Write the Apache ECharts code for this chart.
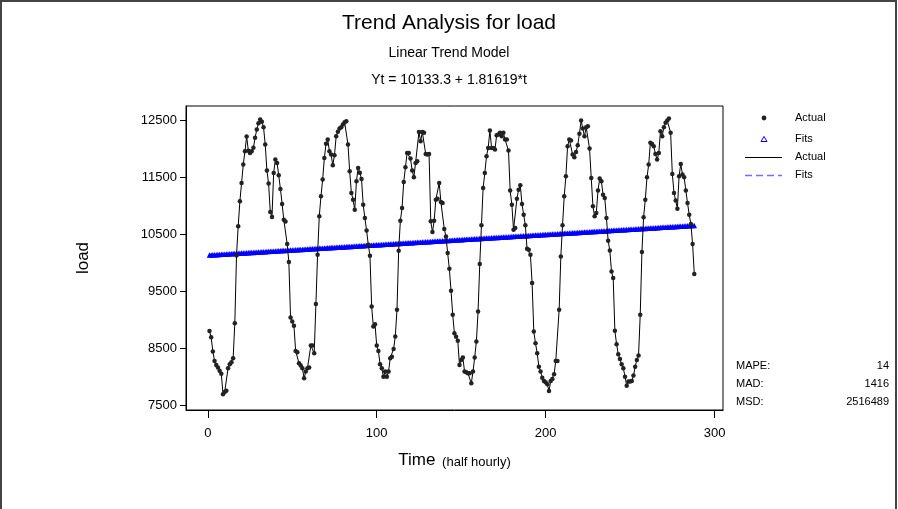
<!DOCTYPE html>
<html>
<head>
<meta charset="utf-8">
<script src="https://cdn.jsdelivr.net/npm/echarts@6/dist/echarts.min.js"></script>
<style>
  html, body { margin: 0; padding: 0; background: #fff; }
  #trend { width: 898px; height: 509px; }
</style>
</head>
<body>
<div id="trend"></div>
<script>
  // load, half hourly, six days of 48 readings each
  var day1 = [8800, 8690, 8440, 8275, 8205, 8157, 8100, 8050, 7690, 7730, 7750, 8146, 8216, 8250, 8322, 8938,
    10128, 10640, 11080, 11400, 11725, 11960, 12220, 11970, 11930, 11960, 12020, 12195, 12342, 12450, 12518, 12480,
    12383, 12077, 11620, 11391, 10893, 10805, 11579, 11813, 11755, 11537, 11297, 11033, 10757, 10727, 10329, 10012];
  var day2 = [9037, 8967, 8891, 8451, 8428, 8234, 8192, 8146, 7970, 8087, 8146, 8157, 8544, 8544, 8410, 9273,
    10141, 10816, 11167, 11461, 11843, 12090, 12165, 11960, 11901, 11713, 11890, 12224, 12301, 12360, 12383, 12430,
    12470, 12488, 12077, 11607, 11227, 11109, 10933, 11432, 11667, 11580, 11473, 11021, 10787, 10569, 10317, 10123];
  var day3 = [9231, 8879, 8920, 8545, 8451, 8216, 8146, 7998, 8087, 7998, 8087, 8322, 8350, 8486, 8703, 9173,
    10211, 10739, 10962, 11420, 11678, 11930, 11930, 11831, 11620, 11502, 11755, 11784, 12300, 12136, 12300, 12283,
    11913, 11901, 11913, 10728, 10540, 10739, 11109, 11127, 11403, 11068, 11051, 10593, 10463, 10171, 9894, 9507];
  var day4 = [9085, 8762, 8700, 8627, 8204, 8292, 8333, 8087, 8075, 8058, 8058, 7882, 8087, 8333, 8615, 9143,
    9977, 10657, 11315, 11579, 11872, 12019, 12324, 12019, 12019, 11989, 12242, 12254, 12283, 12224, 12283, 12165,
    12165, 11972, 11268, 11021, 10581, 10610, 11127, 11285, 11361, 11033, 10845, 10657, 10246, 10229, 10141, 9642];
  var day5 = [8791, 8586, 8410, 8174, 8087, 7981, 7923, 7899, 7864, 7746, 7923, 7958, 8040, 8275, 8275, 9173,
    10111, 10657, 11167, 11520, 12048, 12165, 12148, 11901, 11854, 11948, 12065, 12266, 12500, 12359, 12224, 12383,
    12400, 12007, 11491, 10992, 10816, 10875, 11268, 11479, 11432, 11197, 11139, 10787, 10387, 10217, 9847, 9730];
  var day6 = [8803, 8569, 8393, 8310, 8216, 8146, 7998, 7840, 7911, 7911, 7923, 8017, 8174, 8292, 8368, 9085,
    10188, 10798, 11109, 11502, 11725, 12107, 12089, 12048, 11913, 11813, 11930, 12312, 12224, 12383, 12459, 12500,
    12535, 12283, 11561, 11227, 11092, 10951, 11520, 11737, 11549, 11502, 11268, 11051, 10845, 10681, 10329, 9801];

  // fitted model printed on the chart: Yt = 10133.3 + 1.81619*t
  var intercept = 10133.3;
  var slope = 1.81619;

  var xTicks = [0, 100, 200, 300];
  var yTicks = [7500, 8500, 9500, 10500, 11500, 12500];
  var stats = [['MAPE:', '14'], ['MAD:', '1416'], ['MSD:', '2516489']];

  var load = day1.concat(day2, day3, day4, day5, day6);
  var actualData = [];
  var fitsData = [];
  for (var i = 0; i < load.length; i++) {
    var t = i + 1;
    actualData.push([t, load[i]]);
    fitsData.push([t, intercept + slope * t]);
  }

  var font = 'Liberation Sans, Arial, sans-serif';
  var chart = echarts.init(document.getElementById('trend'));

  // legend + accuracy measures (Minitab style side panel)
  var side = [
    {type: 'circle', shape: {cx: 764, cy: 118, r: 2.4}, style: {fill: '#222'}},
    {type: 'text', style: {x: 795, y: 118, text: 'Actual', font: '11px ' + font, fill: '#000', verticalAlign: 'middle'}},
    {type: 'polygon', shape: {points: [[764, 136.5], [767, 141.5], [761, 141.5]]}, style: {fill: '#fff', stroke: '#0000ff', lineWidth: 1}},
    {type: 'text', style: {x: 795, y: 139, text: 'Fits', font: '11px ' + font, fill: '#000', verticalAlign: 'middle'}},
    {type: 'line', shape: {x1: 745, y1: 157.5, x2: 782, y2: 157.5}, style: {stroke: '#000', lineWidth: 1}},
    {type: 'text', style: {x: 795, y: 157, text: 'Actual', font: '11px ' + font, fill: '#000', verticalAlign: 'middle'}},
    {type: 'line', shape: {x1: 745, y1: 175.5, x2: 782, y2: 175.5}, style: {stroke: '#6f6fff', lineWidth: 1.3, lineDash: [7, 4]}},
    {type: 'text', style: {x: 795, y: 175, text: 'Fits', font: '11px ' + font, fill: '#000', verticalAlign: 'middle'}},
    {type: 'rect', shape: {x: 1, y: 1, width: 895, height: 560}, style: {fill: 'none', stroke: '#444', lineWidth: 2}}
  ];
  stats.forEach(function (s, k) {
    side.push({type: 'text', style: {x: 736, y: 366 + k * 18, text: s[0], font: '11px ' + font, fill: '#000', verticalAlign: 'middle'}});
    side.push({type: 'text', style: {x: 889, y: 366 + k * 18, text: s[1], font: '11px ' + font, fill: '#000', align: 'right', verticalAlign: 'middle'}});
  });

  var option = {
    animation: false,
    backgroundColor: '#fff',
    title: [
      {text: 'Trend Analysis for load', left: 'center', top: 8, textStyle: {fontFamily: font, fontSize: 21, fontWeight: 'normal', color: '#000'}},
      {text: 'Linear Trend Model', left: 'center', top: 41, textStyle: {fontFamily: font, fontSize: 14, fontWeight: 'normal', color: '#000'}},
      {text: 'Yt = 10133.3 + 1.81619*t', left: 'center', top: 68, textStyle: {fontFamily: font, fontSize: 14, fontWeight: 'normal', color: '#000'}}
    ],
    grid: {left: 186, right: 175, top: 106, bottom: 99, show: true, borderColor: '#000', borderWidth: 1, backgroundColor: '#fff'},
    xAxis: {
      type: 'value',
      min: -12.9,
      max: 305,
      name: '{a|Time}  {b|(half hourly)}',
      nameLocation: 'middle',
      nameGap: 42,
      nameTextStyle: {rich: {a: {fontFamily: font, fontSize: 17, color: '#000'}, b: {fontFamily: font, fontSize: 13, color: '#000', padding: [3, 0, 0, 0]}}},
      splitLine: {show: false},
      axisLine: {show: true, onZero: false, lineStyle: {color: '#000'}},
      axisTick: {show: true, length: 8, lineStyle: {color: '#000'}, customValues: xTicks},
      axisLabel: {margin: 17, fontFamily: font, fontSize: 13, color: '#000', customValues: xTicks}
    },
    yAxis: {
      type: 'value',
      min: 7412,
      max: 12755,
      name: 'load',
      nameLocation: 'middle',
      nameRotate: 90,
      nameGap: 94,
      nameTextStyle: {fontFamily: font, fontSize: 17, color: '#000'},
      splitLine: {show: false},
      axisLine: {show: true, onZero: false, lineStyle: {color: '#000'}},
      axisTick: {show: true, length: 6, lineStyle: {color: '#000'}, customValues: yTicks},
      axisLabel: {margin: 9, fontFamily: font, fontSize: 13, color: '#000', customValues: yTicks,
        formatter: function (v) { return String(v); }}
    },
    series: [
      {
        name: 'Fits',
        type: 'line',
        data: fitsData,
        symbol: 'triangle',
        symbolSize: 5.5,
        showAllSymbol: true,
        itemStyle: {color: '#0000ff'},
        lineStyle: {color: '#6f6fff', width: 1, type: 'dashed'},
        z: 2
      },
      {
        name: 'Actual',
        type: 'line',
        data: actualData,
        symbol: 'circle',
        symbolSize: 4.5,
        showAllSymbol: true,
        itemStyle: {color: '#222'},
        lineStyle: {color: '#000', width: 1},
        z: 3
      }
    ],
    graphic: side
  };
  chart.setOption(option);
</script>
</body>
</html>
